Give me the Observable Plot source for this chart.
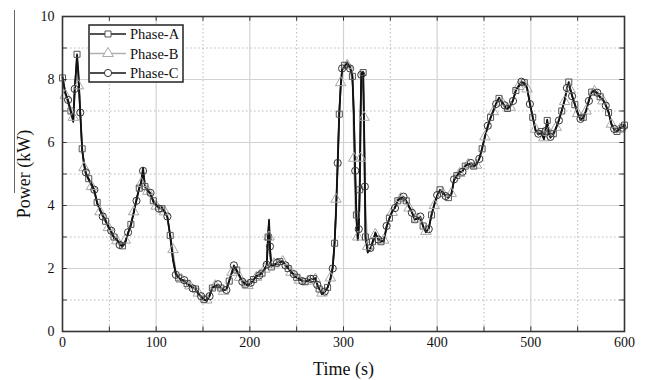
<!DOCTYPE html>
<html><head><meta charset="utf-8">
<script src="https://cdn.jsdelivr.net/npm/d3@7"></script>
<script src="https://cdn.jsdelivr.net/npm/@observablehq/plot@0.6"></script>
<style>
body{margin:0;background:#fff;font-family:'Liberation Serif','Times New Roman',serif;}
#wrap{position:relative;width:650px;height:380px;overflow:hidden;}
#wrap svg text{font-family:'Liberation Serif','Times New Roman',serif !important;}
#deco{position:absolute;left:14px;top:10px;width:1px;height:183px;background:#666;}
#legend{position:absolute;left:88px;top:24px;}
</style></head>
<body>
<div id="wrap"><div id="deco"></div></div>
<script>
// ---- data ----
const time = [
 0,3,6,9,11.5,13,15.5,17,19,21,
 23,25,28,31,34,37,40,43,46,49,
 52,55,58,61,64,67,70,73,76,79,
 82,84,86,88,91,94,97,100,103,106,
 109,112,115,118,121,124,127,130,133,136,
 139,142,145,148,151,154,157,160,163,166,
 169,172,175,178,181,183,186,189,192,195,
 198,201,204,207,210,213,216,218,219.5,220.5,
 221.5,223,226,229,232,235,238,241,244,247,
 250,253,256,259,262,265,268,270,272,274,
 277,280,283,286,288.5,290.5,292,293.8,295.5,297,
 298.5,301,304,307,309.5,311,312.5,313.8,315.2,316.3,
 317.3,318.3,319,321,322,322.8,323.5,325.8,328.7,331,
 334,337,340,343,346,349,352,355,358,361,
 364,367,370,373,376,379,382,385,388,391,
 394,397,400,403,406,409,412,415,418,421,
 424,427,430,433,436,439,442,445,448,451,
 454,457,460,463,466,469,472,475,478,481,
 484,487,490,493,496,499,502,505,508,511,
 514,516,517.5,519,521,524,527,530,533,536,
 538.5,540.5,542,544,547,550,553,556,559,562,
 565,568,571,574,577,580,583,586,589,592,
 595,598,600];
const phaseA = [
 8.05,7.6,7.3,7.0,6.7,7.6,8.8,8.2,6.9,5.8,
 5.3,5.0,4.85,4.65,4.45,4.1,3.85,3.7,3.5,3.35,
 3.15,3.0,2.9,2.8,2.72,2.85,3.1,3.4,3.75,4.2,
 4.55,4.75,5.2,4.6,4.5,4.35,4.15,4.0,3.95,3.9,
 3.82,3.62,3.05,2.3,1.85,1.7,1.65,1.6,1.52,1.45,
 1.4,1.35,1.2,1.1,1.02,0.97,1.15,1.38,1.45,1.48,
 1.38,1.3,1.35,1.6,1.9,2.07,1.95,1.75,1.6,1.5,
 1.48,1.52,1.65,1.75,1.8,1.85,2.0,2.1,3.0,3.55,
 2.6,2.05,2.12,2.15,2.22,2.2,2.12,2.0,1.9,1.8,
 1.72,1.65,1.62,1.58,1.62,1.65,1.68,1.68,1.5,1.35,
 1.2,1.25,1.4,1.65,2.05,2.8,3.8,5.3,6.9,7.8,
 8.3,8.45,8.5,8.4,8.1,7.0,5.0,3.7,2.9,3.3,
 4.5,7.0,8.2,8.22,6.5,4.5,3.0,2.55,2.6,2.85,
 3.1,2.95,2.85,2.88,3.3,3.6,3.8,3.95,4.15,4.25,
 4.25,4.15,3.95,3.8,3.55,3.6,3.62,3.35,3.15,3.28,
 3.7,4.05,4.3,4.5,4.4,4.32,4.25,4.35,4.8,4.95,
 5.05,5.1,5.25,5.32,5.32,5.25,5.3,5.5,5.8,6.2,
 6.5,6.8,7.0,7.25,7.4,7.3,7.15,7.08,7.15,7.35,
 7.65,7.8,7.9,7.9,7.72,7.25,6.8,6.4,6.25,6.35,
 6.1,6.4,6.7,6.3,6.15,6.28,6.45,6.72,7.0,7.35,
 7.7,7.92,7.7,7.5,7.2,6.95,6.72,6.8,7.0,7.35,
 7.6,7.65,7.55,7.45,7.35,7.2,6.95,6.6,6.4,6.35,
 6.45,6.5,6.55];
const phaseB = [
 8.0,7.5,7.2,6.9,6.8,8.0,8.0,7.8,6.8,5.7,
 5.2,4.95,4.8,4.6,4.4,4.05,3.8,3.65,3.45,3.3,
 3.1,2.98,2.88,2.78,2.75,2.9,3.15,3.45,3.8,4.25,
 4.5,4.7,5.0,4.55,4.45,4.3,4.1,3.98,3.92,3.88,
 3.8,3.6,3.1,2.6,1.9,1.72,1.66,1.58,1.5,1.45,
 1.38,1.35,1.22,1.12,1.05,1.0,1.18,1.4,1.45,1.45,
 1.35,1.28,1.38,1.62,1.88,2.0,1.9,1.72,1.58,1.5,
 1.46,1.52,1.62,1.72,1.78,1.85,1.98,2.1,2.6,3.0,
 2.4,2.1,2.15,2.2,2.28,2.22,2.1,1.98,1.88,1.78,
 1.7,1.63,1.6,1.56,1.6,1.63,1.66,1.66,1.5,1.38,
 1.22,1.27,1.42,1.7,2.15,3.0,4.2,5.8,7.2,7.9,
 8.3,8.4,8.45,8.35,7.8,5.5,3.7,3.3,3.0,3.2,
 3.8,5.5,7.5,8.0,6.8,5.5,4.2,2.7,2.62,2.85,
 3.08,2.95,2.86,2.9,3.28,3.58,3.78,3.92,4.12,4.22,
 4.22,4.12,3.92,3.78,3.55,3.58,3.6,3.35,3.18,3.3,
 3.68,4.0,4.28,4.45,4.38,4.3,4.22,4.38,4.78,4.92,
 5.02,5.08,5.22,5.3,5.3,5.22,5.28,5.48,5.78,6.18,
 6.48,6.78,6.98,7.22,7.38,7.28,7.12,7.05,7.12,7.32,
 7.62,7.78,7.85,7.88,7.7,7.2,6.78,6.42,6.28,6.38,
 6.15,6.35,6.6,6.32,6.18,6.3,6.48,6.7,6.98,7.3,
 7.65,7.85,7.68,7.48,7.18,6.92,6.7,6.78,7.0,7.32,
 7.58,7.62,7.52,7.42,7.32,7.18,6.92,6.58,6.4,6.38,
 6.42,6.48,6.52];
const phaseC = [
 8.1,7.55,7.35,6.95,6.65,7.7,8.7,8.1,6.95,5.75,
 5.35,5.05,4.8,4.7,4.5,4.05,3.9,3.65,3.55,3.3,
 3.2,2.95,2.95,2.75,2.7,2.8,3.15,3.35,3.8,4.15,
 4.6,4.7,5.1,4.65,4.45,4.4,4.1,4.05,3.9,3.95,
 3.78,3.65,3.0,2.25,1.8,1.72,1.62,1.63,1.5,1.48,
 1.37,1.38,1.18,1.12,1.0,0.99,1.12,1.4,1.42,1.5,
 1.36,1.33,1.32,1.62,1.88,2.1,1.92,1.78,1.58,1.52,
 1.45,1.55,1.62,1.78,1.78,1.88,1.98,2.12,3.1,3.5,
 2.7,2.08,2.1,2.18,2.2,2.24,2.1,2.03,1.88,1.82,
 1.7,1.68,1.6,1.6,1.6,1.67,1.66,1.7,1.48,1.37,
 1.18,1.27,1.38,1.68,2.0,2.85,3.75,5.35,6.95,7.75,
 8.35,8.4,8.55,8.35,8.15,6.9,5.1,3.65,2.95,3.25,
 4.6,7.1,8.15,8.25,6.4,4.6,2.95,2.5,2.65,2.8,
 3.15,2.92,2.88,2.85,3.35,3.58,3.83,3.92,4.18,4.22,
 4.28,4.12,3.98,3.77,3.58,3.57,3.65,3.32,3.18,3.25,
 3.72,4.02,4.33,4.47,4.43,4.3,4.28,4.32,4.83,4.92,
 5.08,5.07,5.28,5.3,5.35,5.22,5.33,5.48,5.83,6.18,
 6.53,6.77,7.03,7.22,7.43,7.27,7.18,7.05,7.18,7.32,
 7.68,7.77,7.93,7.87,7.75,7.22,6.83,6.37,6.28,6.32,
 6.13,6.37,6.73,6.27,6.18,6.25,6.48,6.7,7.03,7.32,
 7.73,7.88,7.73,7.47,7.23,6.92,6.75,6.77,7.03,7.32,
 7.63,7.62,7.58,7.42,7.38,7.17,6.98,6.57,6.43,6.32,
 6.48,6.47,6.58];
const seriesNames = ["Phase-A","Phase-B","Phase-C"];
const seriesValues = [phaseA, phaseB, phaseC];
const xLabelTicks = [0,100,200,300,400,500,600];
const yLabelTicks = [0,2,4,6,8,10];
const xMajorGrid = [100,200,300,400,500];
const xMinorGrid = [50,150,250,350,450,550];
const yMajorGrid = [2,4,6,8];
const yMinorGrid = [1,3,5,7,9];
const xTickMarks = [0,50,100,150,200,250,300,350,400,450,500,550,600];
const yTickMarks = [0,1,2,3,4,5,6,7,8,9,10];

// ---- styles ----
const FONT = "'Liberation Serif','Times New Roman',serif";
const lineColor = ["#1a1a1a","#b0b0b0","#111"];
const lineWidth = [1.8,1.2,1.6];
const markColor = ["#555","#a8a8a8","#333"];
const symbols = ["square","triangle","circle"];
const markR = [3.4,3.9,3.6];

const rows = [];
seriesValues.forEach((vals, s) => {
  time.forEach((t, i) => rows.push({t, v: vals[i], s, i}));
});
const bySeries = s => rows.filter(d => d.s === s);
const markerRows = s => rows.filter(d => d.s === s && d.i % 3 === s);

const order = [1, 0, 2];
const marks = [
  Plot.ruleY(yMinorGrid, {stroke: "#b8b8b8", strokeDasharray: "1.5,2.5"}),
  Plot.ruleX(xMinorGrid, {stroke: "#b8b8b8", strokeDasharray: "1.5,2.5"}),
  Plot.ruleY(yMajorGrid, {stroke: "#d2d2d2", strokeWidth: 1.2}),
  Plot.ruleX(xMajorGrid, {stroke: "#d2d2d2", strokeWidth: 1.2}),
];
order.forEach(s => {
  marks.push(Plot.line(bySeries(s), {x: "t", y: "v", stroke: lineColor[s], strokeWidth: lineWidth[s]}));
});
order.forEach(s => {
  marks.push(Plot.dot(markerRows(s), {x: "t", y: "v", symbol: () => symbols[s], r: markR[s], stroke: markColor[s], strokeWidth: 1, fill: "none"}));
});
marks.push(
  Plot.ruleX(xTickMarks, {y1: 0, y2: 0.15, stroke: "#333"}),
  Plot.ruleX(xTickMarks, {y1: 10, y2: 9.85, stroke: "#333"}),
  Plot.ruleY(yTickMarks, {x1: 0, x2: 5, stroke: "#333"}),
  Plot.ruleY(yTickMarks, {x1: 600, x2: 595, stroke: "#333"}),
  Plot.frame({stroke: "#333", strokeWidth: 1.6}),
  Plot.axisX(xLabelTicks, {tickSize: 0, tickPadding: 6, fontSize: 14, label: null, tickFormat: d => String(d)}),
  Plot.axisY(yLabelTicks, {tickSize: 0, tickPadding: 8, fontSize: 14, label: null, tickFormat: d => String(d)}),
  Plot.text(["Time (s)"], {frameAnchor: "bottom", dy: 38, fontSize: 18, textAnchor: "middle", lineAnchor: "middle"}),
  Plot.text(["Power (kW)"], {frameAnchor: "left", dx: -38, rotate: -90, fontSize: 18, textAnchor: "middle", lineAnchor: "middle"})
);

const chart = Plot.plot({
  width: 650, height: 380,
  marginLeft: 62, marginRight: 26, marginTop: 16, marginBottom: 49,
  x: {domain: [0, 600]},
  y: {domain: [0, 10]},
  style: {fontFamily: FONT, color: "#111", background: "#fff"},
  symbol: {type: "identity"},
  marks
});
chart.setAttribute("font-family", FONT);
document.getElementById("wrap").appendChild(chart);

// ---- legend ----
const lg = d3.select("#wrap").append("svg").attr("id", "legend").attr("width", 97).attr("height", 60);
lg.append("rect").attr("x", 1).attr("y", 1).attr("width", 94).attr("height", 57)
  .attr("fill", "#fff").attr("stroke", "#222").attr("stroke-width", 1.5);
seriesNames.forEach((name, s) => {
  const cy = 10 + s * 19.5;
  lg.append("line").attr("x1", 2).attr("x2", 38).attr("y1", cy).attr("y2", cy)
    .attr("stroke", lineColor[s]).attr("stroke-width", 1.3);
  const sym = d3.symbol().type(s === 0 ? d3.symbolSquare : s === 1 ? d3.symbolTriangle : d3.symbolCircle)
    .size(Math.PI * markR[s] * markR[s]);
  lg.append("path").attr("d", sym()).attr("transform", `translate(20,${cy})`)
    .attr("fill", "#fff").attr("stroke", markColor[s]);
  lg.append("text").attr("x", 42).attr("y", cy).attr("dy", "0.35em")
    .attr("font-size", 14.5).attr("fill", "#111").text(name);
});
</script>
</body></html>
